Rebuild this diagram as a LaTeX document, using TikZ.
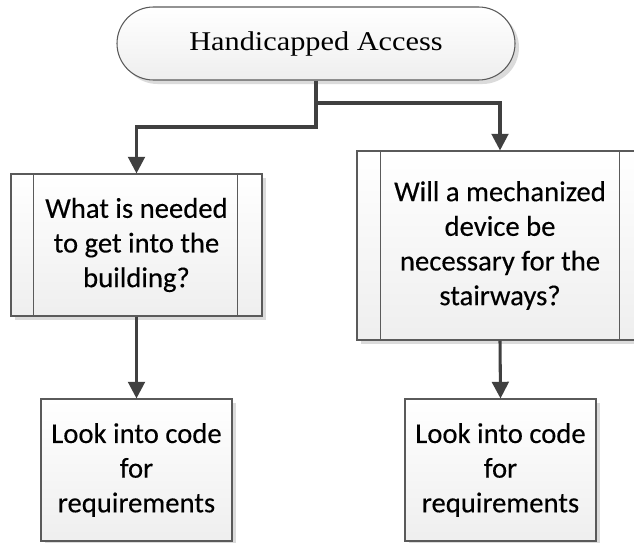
\documentclass[tikz,border=0pt]{standalone}
\usepackage{fontspec}
\setmainfont[FakeBold=0.3]{Carlito}
\newfontfamily\headfont[FakeStretch=1.12]{Liberation Serif}
\usetikzlibrary{shapes.misc,shadows,arrows.meta}

\definecolor{edge}{HTML}{5A5A5A}
\definecolor{wire}{HTML}{404040}

\tikzset{
  boxfill/.style={draw=edge, line width=0.8pt, top color=white, bottom color=gray!13,
    drop shadow={shadow xshift=3pt, shadow yshift=-3pt, fill=gray!28, opacity=1},
    inner sep=0pt, align=center,
    font=\fontsize{21.5pt}{26pt}\selectfont},
  terminal/.style={boxfill, rounded rectangle, minimum width=398*0.75pt,
    minimum height=73*0.75pt, font=\headfont\fontsize{20.3pt}{24pt}\selectfont},
  subproc/.style={boxfill, rectangle},
  process/.style={boxfill, rectangle, minimum width=191*0.75pt, minimum height=142*0.75pt},
  conn/.style={draw=wire, line width=2.3pt, line join=miter,
    -{Triangle[length=12.5pt,width=12.5pt]}},
  wireonly/.style={draw=wire, line width=2.3pt, line join=miter},
}

\begin{document}
\begin{tikzpicture}[x=0.75pt, y=-0.75pt]
  \useasboundingbox (0,0) rectangle (634,542);
  \clip (0,0) rectangle (634,542);

  % terminator
  \node[terminal] (start) at (316,43.5) {Handicapped Access};

  % predefined-process boxes
  \node[subproc, minimum width=251*0.75pt, minimum height=142*0.75pt] (q1) at (136.5,245)
    {What is needed\\to get into the\\building?};
  \node[subproc, minimum width=286*0.75pt, minimum height=189*0.75pt] (q2) at (500,245.5)
    {Will a mechanized\\device be\\necessary for the\\stairways?};

  % side bars of the predefined-process boxes
  \draw[edge, line width=0.8pt] ([xshift=17.25pt]q1.north west) -- ([xshift=17.25pt]q1.south west);
  \draw[edge, line width=0.8pt] ([xshift=-18.75pt]q1.north east) -- ([xshift=-18.75pt]q1.south east);
  \draw[edge, line width=0.8pt] ([xshift=18pt]q2.north west) -- ([xshift=18pt]q2.south west);
  \draw[edge, line width=0.8pt] ([xshift=-18pt]q2.north east) -- ([xshift=-18pt]q2.south east);

  % process boxes
  \node[process] (r1) at (136.5,470) {Look into code\\for\\requirements};
  \node[process] (r2) at (500.5,470) {Look into code\\for\\requirements};

  % connectors
  \coordinate (jr) at (316,103);
  \coordinate (jl) at (316,127);
  \draw[wireonly] (start.south) -- (jr);
  \draw[conn] (jr) -| (q2.north);
  \draw[conn] (jr) -- (jl) -| (q1.north);
  \draw[conn] (q1.south) -- (r1.north);
  \draw[conn] (q2.south) -- (r2.north);
\end{tikzpicture}
\end{document}
